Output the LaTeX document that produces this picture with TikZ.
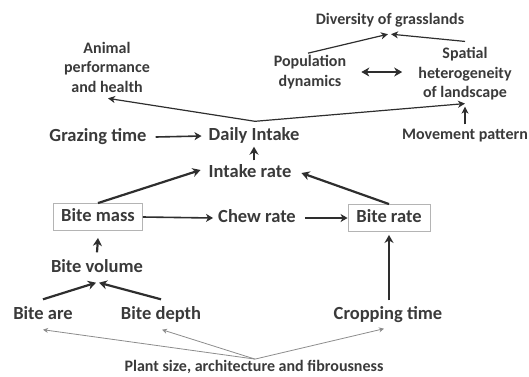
\documentclass[tikz,border=0pt]{standalone}
\usepackage{fontspec}
\setmainfont{Carlito}
\usetikzlibrary{arrows.meta,calc}
\definecolor{txt}{HTML}{3A3A3A}
\definecolor{ln}{HTML}{2E2E2E}
\definecolor{gln}{HTML}{8C8C8C}
\definecolor{bx}{HTML}{B4B4B4}
\begin{document}
\begin{tikzpicture}[x=1pt,y=-1pt,
  big/.style={inner sep=0pt,text=txt,font=\fontsize{18.5}{22}\bfseries\selectfont,text height=13pt,text depth=4pt},
  sml/.style={inner sep=0pt,text=txt,font=\fontsize{16}{19.5}\bfseries\selectfont,align=center},
  boxed/.style={big,draw=bx,line width=0.9pt,minimum width=89pt,minimum height=27pt},
  thk/.style={draw=ln,line width=2.2pt,-{Stealth[length=8pt,width=9pt,inset=2.5pt]}},
  med/.style={draw=ln,line width=1.6pt,-{Stealth[length=7pt,width=8pt,inset=2pt]}},
  thn/.style={draw=ln,line width=1.2pt,-{Stealth[length=7pt,width=7pt,inset=2pt]}},
  gry/.style={draw=gln,line width=0.8pt,-{Stealth[length=5pt,width=5pt,inset=1.5pt]}}]
\useasboundingbox (0,0) rectangle (529,376);
% nodes
\node[sml] (div) at (390,20) {Diversity of grasslands};
\node[sml] (pop) at (310,72) {Population\\dynamics};
\node[sml] (spa) at (465,74) {Spatial\\heterogeneity\\of landscape};
\node[sml] (ani) at (107,67) {Animal\\performance\\and health};
\node[sml] (mov) at (465,136) {Movement pattern};
\node[big] (graz) at (98,137) {Grazing time};
\node[big] (daily) at (254,136) {Daily Intake};
\node[big] (intake) at (250,173) {Intake rate};
\node[boxed] (bmass) at (98,217) {Bite mass};
\node[big] (chew) at (257,218) {Chew rate};
\node[boxed,minimum width=82pt] (brate) at (389,218) {Bite rate};
\node[big] (bvol) at (97,268) {Bite volume};
\node[big] (bare) at (43,315) {Bite are};
\node[big] (bdepth) at (161,315) {Bite depth};
\node[big] (crop) at (388,315) {Cropping time};
\node[sml] (plant) at (254,367) {Plant size, architecture and fibrousness};
% junctions
\coordinate (top) at ($(daily.north)+(1,-6)$);
\coordinate (bot) at ($(plant.north)+(1,-1)$);
% connectors
\draw[thn] (top) -- ([xshift=1pt,yshift=-6pt]ani.south);
\draw[thn] (top) -- ([yshift=-3pt]spa.south);
\draw[thn] ([yshift=5pt]mov.north) -- ([yshift=-6pt]spa.south);
\draw[thn] ([xshift=-2pt,yshift=2pt]pop.north) -- ([xshift=-2pt,yshift=-7pt]div.south);
\draw[thn] ([yshift=6pt]spa.north) -- ([xshift=1pt,yshift=-7pt]div.south);
\draw[thk,{Stealth[length=8pt,width=9pt,inset=2.5pt]}-{Stealth[length=8pt,width=9pt,inset=2.5pt]}] ([xshift=15pt]pop.east) -- ([xshift=-16pt]spa.west |- pop.east);
\draw[med] ([xshift=9pt]graz.east) -- ([xshift=-7pt]daily.west);
\draw[thk] ([yshift=4pt]intake.north -| daily.south) -- ([yshift=-2pt]daily.south);
\draw[thk] (bmass.north) -- ([xshift=-8pt,yshift=3pt]intake.west);
\draw[thk] (brate.north) -- ([xshift=10pt]intake.east);
\draw[med] (bmass.east) -- ([xshift=-5pt]chew.west);
\draw[med] ([xshift=9pt]chew.east) -- (brate.west);
\draw[thk] ([yshift=6pt]crop.north -| brate.south) -- ([yshift=-3pt]brate.south);
\draw[thk] ([yshift=7pt]bvol.north) -- ([yshift=-7pt]bmass.south);
\draw[thk] ([yshift=7pt]bare.north) -- ([xshift=-1pt,yshift=-6pt]bvol.south);
\draw[thk] ([yshift=7pt]bdepth.north) -- ([xshift=2pt,yshift=-6pt]bvol.south);
\draw[gry] (bot) -- ([yshift=-6pt]bare.south);
\draw[gry] (bot) -- ([xshift=1pt,yshift=-6pt]bdepth.south);
\draw[gry] (bot) -- ([xshift=-4pt,yshift=-5pt]crop.south);
\end{tikzpicture}
\end{document}
